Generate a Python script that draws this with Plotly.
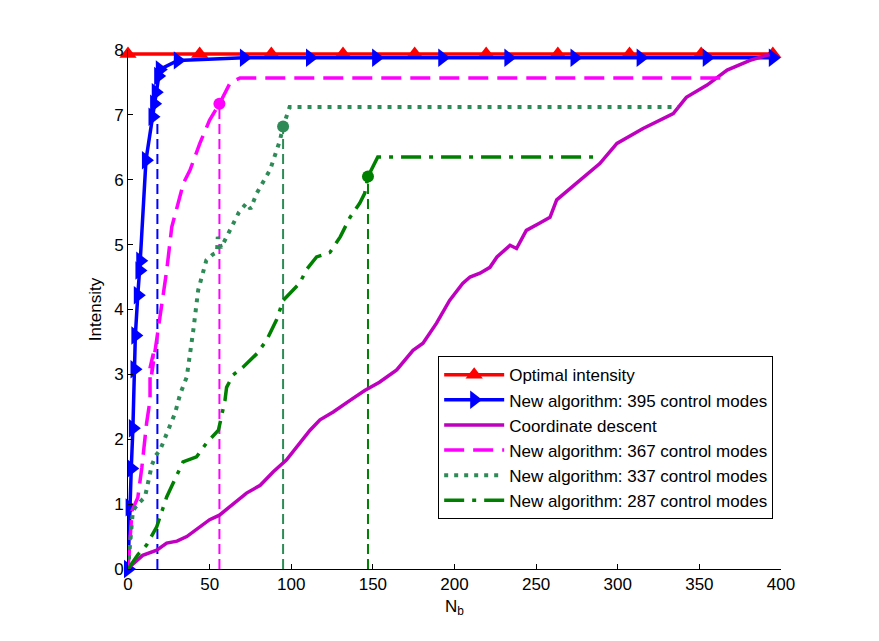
import plotly.graph_objects as go

# ---- data ----
opt_x = [0, 43.9, 87.8, 131.7, 175.6, 219.4, 263.3, 307.2, 351.1, 395]
opt_y = [7.94] * len(opt_x)

n395_x = [0, 1, 2, 3, 4, 4.5, 6, 7, 7.5, 11, 15, 16, 17, 18.5, 19.5, 30.5, 71, 111.5, 152, 192.5, 233, 273.5, 314, 354.5, 395]
n395_y = [0, 0.95, 1.55, 2.17, 3.08, 3.6, 4.22, 4.6, 4.75, 6.3, 6.97, 7.17, 7.35, 7.6, 7.7, 7.84, 7.88, 7.88, 7.88, 7.88, 7.88, 7.88, 7.88, 7.88, 7.88]

cd_x = [0, 1, 9, 17.6, 23.7, 30, 36, 44, 50, 56, 64.5, 72.6, 81, 89, 97, 105, 111.5, 117.6, 125.7, 136, 145, 154,
        164.6, 174.6, 180.7, 189, 197, 205, 209.5, 215.6, 221.7, 226, 234, 238, 244, 252, 258.5, 262.6, 277, 289,
        299.5, 315.5, 334, 342, 354.7, 367, 381, 393]
cd_y = [0, 0.03, 0.21, 0.29, 0.4, 0.43, 0.5, 0.65, 0.76, 0.83, 1.01, 1.17, 1.29, 1.5, 1.68, 1.94, 2.14, 2.3, 2.42, 2.6, 2.75, 2.88,
        3.07, 3.37, 3.48, 3.79, 4.14, 4.4, 4.5, 4.56, 4.65, 4.81, 4.99, 4.94, 5.22, 5.33, 5.42, 5.69, 6.0, 6.25,
        6.56, 6.79, 7.02, 7.27, 7.46, 7.69, 7.84, 7.93]

n367_x = [0, 2.5, 6, 8.5, 11.4, 13.5, 13.5, 15.5, 14.5, 18.5, 20.7, 23.7, 26.8, 29, 34, 38, 44, 50, 56, 62.5, 68.6, 367]
n367_y = [0, 0.9, 1.1, 1.57, 2.25, 2.6, 3.1, 3.32, 3.0, 3.68, 4.1, 4.6, 5.27, 5.48, 5.95, 6.15, 6.56, 6.92, 7.17, 7.49, 7.57, 7.57]

n337_x = [0, 3, 6, 10.4, 14.6, 17, 19.6, 23.8, 28.8, 32, 36, 40, 43, 48, 52, 54.5, 55, 57, 59.4, 63.6, 68, 72.6, 75, 79, 87, 93, 95, 99, 337]
n337_y = [0, 0.9, 1.0, 1.11, 1.6, 1.75, 1.83, 2.09, 2.4, 2.7, 2.96, 3.68, 4.3, 4.76, 4.85, 4.88, 5.12, 4.95, 5.07, 5.27, 5.5, 5.64, 5.55, 5.8, 6.15, 6.6, 6.82, 7.12, 7.12]

n287_x = [0, 3, 6, 11.4, 17.6, 23.7, 25.7, 33.7, 42, 48, 55.4, 58, 59.4, 60.4, 64.4, 70.4, 79, 85, 91, 95, 100, 105,
          109.5, 115.5, 123.7, 130, 136, 142, 145, 147, 153, 287]
n287_y = [0, 0.1, 0.22, 0.37, 0.65, 1.11, 1.22, 1.65, 1.73, 1.94, 2.14, 2.45, 2.6, 2.8, 2.99, 3.11, 3.32, 3.53, 3.84, 4.14, 4.27, 4.4,
          4.62, 4.81, 4.88, 5.12, 5.42, 5.64, 5.79, 6.05, 6.35, 6.35]

# stopping points (vertical markers)
stop_x = {"395": 18, "367": 56, "337": 95, "287": 147}
stop_y = {"395": 6.9, "367": 7.17, "337": 6.82, "287": 6.05}

names = {
    "opt": "Optimal intensity",
    "395": "New algorithm: 395 control modes",
    "cd": "Coordinate descent",
    "367": "New algorithm: 367 control modes",
    "337": "New algorithm: 337 control modes",
    "287": "New algorithm: 287 control modes",
}
colors = {"opt": "#FF0000", "395": "#0000FF", "cd": "#BF00BF", "367": "#FF00FF", "337": "#2E8B57", "287": "#008000"}

FONT = "Liberation Sans, Arial, Helvetica, sans-serif"

fig = go.Figure()

# vertical dashed stop lines
for k in ["395", "367", "337", "287"]:
    fig.add_trace(go.Scatter(
        x=[stop_x[k], stop_x[k]], y=[0, stop_y[k]], mode="lines",
        line=dict(color=colors[k], width=2, dash="10px,5px"),
        showlegend=False, hoverinfo="skip"))
for k in ["367", "337", "287"]:
    fig.add_trace(go.Scatter(
        x=[stop_x[k]], y=[stop_y[k]], mode="markers",
        marker=dict(size=12, color=colors[k], symbol="circle", opacity=1,
                    line=dict(width=0)),
        showlegend=False, hoverinfo="skip"))

fig.add_trace(go.Scatter(x=opt_x, y=opt_y, name=names["opt"], mode="lines+markers",
                         line=dict(color=colors["opt"], width=3.5),
                         marker=dict(symbol="triangle-up", size=15, color=colors["opt"], opacity=1),
                         cliponaxis=False, legendrank=1))
fig.add_trace(go.Scatter(x=n395_x, y=n395_y, name=names["395"], mode="lines+markers",
                         line=dict(color=colors["395"], width=3.5),
                         marker=dict(symbol="triangle-right", size=16, color=colors["395"], opacity=1),
                         cliponaxis=False, legendrank=2))
fig.add_trace(go.Scatter(x=cd_x, y=cd_y, name=names["cd"], mode="lines",
                         line=dict(color=colors["cd"], width=3.5), legendrank=3))
fig.add_trace(go.Scatter(x=n367_x, y=n367_y, name=names["367"], mode="lines",
                         line=dict(color=colors["367"], width=3.5, dash="20px,9px"), legendrank=4))
fig.add_trace(go.Scatter(x=n337_x, y=n337_y, name=names["337"], mode="lines",
                         line=dict(color=colors["337"], width=4, dash="4px,6px"), legendrank=5))
fig.add_trace(go.Scatter(x=n287_x, y=n287_y, name=names["287"], mode="lines",
                         line=dict(color=colors["287"], width=3.5, dash="20px,8px,4px,8px"), legendrank=6))

axis_common = dict(showgrid=False, zeroline=False, showline=True, linecolor="black", linewidth=1,
                   ticks="inside", ticklen=5, tickcolor="black", mirror=False,
                   tickfont=dict(family=FONT, size=17, color="black"))

fig.update_layout(
    width=879, height=641,
    margin=dict(l=120, r=106, t=42, b=80),
    paper_bgcolor="white", plot_bgcolor="white",
    font=dict(family=FONT, size=17, color="black"),
    xaxis=dict(range=[0, 400], dtick=50, tick0=0,
               title=dict(text="N<sub>b</sub>", font=dict(family=FONT, size=17), standoff=6),
               **axis_common),
    yaxis=dict(range=[0, 8], dtick=1, tick0=0,
               title=dict(text="Intensity", font=dict(family=FONT, size=17), standoff=8),
               **axis_common),
    legend=dict(x=0.475, y=0.41, xanchor="left", yanchor="top",
                bordercolor="black", borderwidth=1, bgcolor="white",
                font=dict(family=FONT, size=17), itemwidth=60, tracegroupgap=0),
    showlegend=True,
)

fig.write_html("out.html")
